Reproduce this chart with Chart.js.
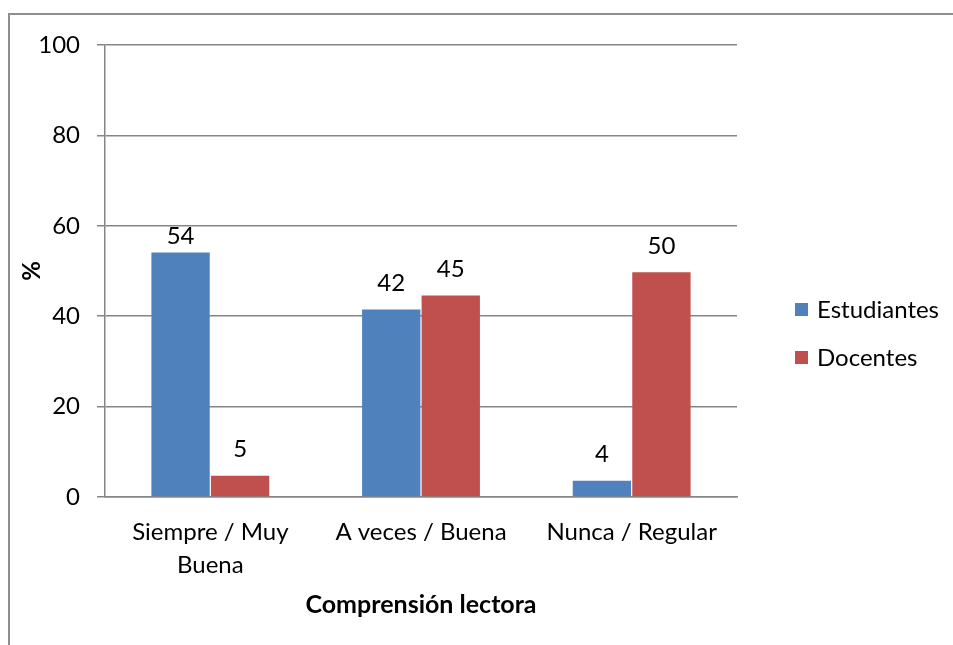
<!DOCTYPE html>
<html lang="es">
<head>
<meta charset="UTF-8">
<title>Comprensión lectora</title>
<script src="https://cdn.jsdelivr.net/npm/chart.js"></script>
<style>
    html, body { margin: 0; padding: 0; background: #fff; overflow: hidden; }
    .frame { position: absolute; left: 8px; top: 13px; width: 1000px; height: 700px; border: 2px solid #8e8e8e; }
    .wrap { position: absolute; left: 0; top: 0; width: 953px; height: 645px; }
</style>
</head>
<body>
<div class="frame"></div>
<div class="wrap"><canvas id="chart" width="953" height="645"></canvas></div>
<script>
const categories = [["Siempre / Muy", "Buena"], "A veces / Buena", "Nunca / Regular"];
const seriesNames = ["Estudiantes", "Docentes"];
const estudiantes = [54.1, 41.5, 3.6];
const docentes = [4.7, 44.6, 49.7];
const yTicks = [0, 20, 40, 60, 80, 100];
const colors = ["#4F81BD", "#C0504D"];

const FONT = "Lato, 'Open Sans', sans-serif";

// value labels above each bar; nudged below a gridline if they would sit on it
const barLabels = {
    id: "barLabels",
    afterDatasetsDraw(chart) {
        const ctx = chart.ctx;
        const yScale = chart.scales.y;
        const gridYs = yTicks.map(v => yScale.getPixelForValue(v));
        ctx.save();
        ctx.font = "24px " + FONT;
        ctx.fillStyle = "#000";
        ctx.textAlign = "center";
        ctx.textBaseline = "bottom";
        chart.data.datasets.forEach((ds, i) => {
            chart.getDatasetMeta(i).data.forEach((bar, j) => {
                let bottom = bar.y - 14;
                const top = bottom - 20;
                gridYs.forEach(g => {
                    if (g > top && g < bottom + 2) bottom = Math.max(bottom, Math.min(bar.y - 2, g + 22));
                });
                ctx.fillText(Math.round(ds.data[j]), bar.x, bottom);
            });
        });
        ctx.restore();
    }
};

// legend on the right, Excel style
const sideLegend = {
    id: "sideLegend",
    afterDraw(chart) {
        const ctx = chart.ctx;
        ctx.save();
        ctx.font = "24px " + FONT;
        ctx.textBaseline = "middle";
        chart.data.datasets.forEach((ds, i) => {
            const y = 309 + i * 48;
            ctx.fillStyle = ds.backgroundColor;
            ctx.fillRect(795, y - 6, 13, 13);
            ctx.fillStyle = "#000";
            ctx.fillText(ds.label, 817, y + 1);
        });
        ctx.restore();
    }
};

new Chart(document.getElementById("chart"), {
    type: "bar",
    data: {
        labels: categories,
        datasets: [
            { label: seriesNames[0], data: estudiantes, backgroundColor: colors[0] },
            { label: seriesNames[1], data: docentes, backgroundColor: colors[1] }
        ]
    },
    options: {
        responsive: false,
        animation: false,
        devicePixelRatio: 1,
        categoryPercentage: 0.565,
        barPercentage: 0.98,
        layout: { padding: { left: 0, top: 45, right: 216, bottom: 0 } },
        plugins: {
            legend: { display: false },
            tooltip: { enabled: false }
        },
        scales: {
            x: {
                grid: { display: false, drawTicks: false },
                border: { color: "#868686", width: 1.5 },
                ticks: { color: "#000", font: { family: FONT, size: 24, lineHeight: 1.4 }, padding: 18, maxRotation: 0 },
                title: { display: true, text: "Comprensión lectora", color: "#000",
                         font: { family: FONT, size: 25, weight: "bold" }, padding: { top: 0, bottom: 25 } },
                afterFit(s) { s.height = 148; }
            },
            y: {
                min: 0,
                max: 100,
                afterBuildTicks(s) { s.ticks = yTicks.map(v => ({ value: v })); },
                grid: { color: "#868686", lineWidth: 1.5, tickLength: 8 },
                border: { color: "#868686", width: 1.5 },
                ticks: { color: "#000", font: { family: FONT, size: 24 }, padding: 17 },
                title: { display: true, text: "%", color: "#000",
                         font: { family: FONT, size: 24, weight: "bold" }, padding: { top: 18, bottom: 0 } },
                afterFit(s) { s.width = 105; }
            }
        }
    },
    plugins: [barLabels, sideLegend]
});
</script>
</body>
</html>
